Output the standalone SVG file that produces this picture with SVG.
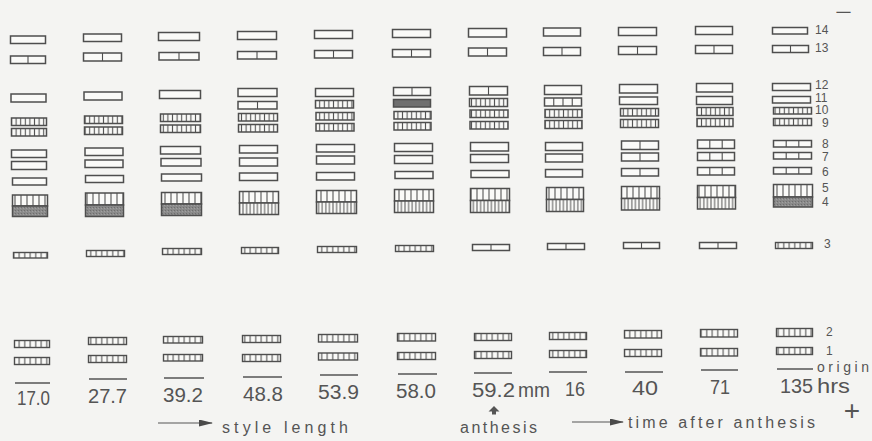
<svg xmlns="http://www.w3.org/2000/svg" width="872" height="441" viewBox="0 0 872 441">
<defs>
<pattern id="hs" width="6" height="20" patternUnits="userSpaceOnUse"><rect width="6" height="20" fill="#fafaf8"/><line x1="3" y1="0" x2="3" y2="20" stroke="#555" stroke-width="1.1"/></pattern>
<pattern id="hm" width="4.6" height="20" patternUnits="userSpaceOnUse"><rect width="4.6" height="20" fill="#fafaf8"/><line x1="2.3" y1="0" x2="2.3" y2="20" stroke="#555" stroke-width="1.1"/></pattern>
<pattern id="hd" width="3.6" height="20" patternUnits="userSpaceOnUse"><rect width="3.6" height="20" fill="#fafaf8"/><line x1="1.8" y1="0" x2="1.8" y2="20" stroke="#555" stroke-width="1"/></pattern>
<pattern id="hl" width="5.5" height="20" patternUnits="userSpaceOnUse"><rect width="5.5" height="20" fill="#fafaf8"/><line x1="2.7" y1="0" x2="2.7" y2="20" stroke="#555" stroke-width="1.1"/></pattern>
<pattern id="sh" width="3" height="3" patternUnits="userSpaceOnUse"><rect width="3" height="3" fill="#8a8a8a"/><rect x="0" y="0" width="1" height="1" fill="#6e6e6e"/><rect x="2" y="1" width="1" height="1" fill="#a0a0a0"/></pattern>
<marker id="ah" viewBox="0 0 14 7" refX="13" refY="3.5" markerWidth="14" markerHeight="7" markerUnits="userSpaceOnUse" orient="auto"><path d="M0,0 L14,3.5 L0,7 Z" fill="#4a4a4a"/></marker>
<style>
rect.b{fill:#fafaf8;stroke:#4e4e4e;stroke-width:1.5}
rect.s{fill:url(#hs);stroke:#4e4e4e;stroke-width:1.5}
rect.m{fill:url(#hm);stroke:#4e4e4e;stroke-width:1.5}
rect.d{fill:url(#hd);stroke:#4e4e4e;stroke-width:1.5}
rect.l{fill:url(#hl);stroke:#4e4e4e;stroke-width:1.4}
rect.g{fill:url(#sh);stroke:#4e4e4e;stroke-width:1.5}
rect.k{fill:#6f6f6f;stroke:#4e4e4e;stroke-width:1.5}
line.v{stroke:#4e4e4e;stroke-width:1.1}
line.o{stroke:#555;stroke-width:1.6}
text{font-family:"Liberation Sans","DejaVu Sans",sans-serif;fill:#555}
.n{font-size:20px}
.r{font-size:12px}
.t{font-size:16px}
</style>
</defs>
<rect width="872" height="441" fill="#f4f4f2"/>

<g id="lane-1">
<rect class="b" x="10.5" y="36" width="35" height="7.5"/>
<rect class="b" x="10.5" y="56" width="35" height="7.5"/><line class="v" x1="28" y1="56" x2="28" y2="63.5"/>
<rect class="b" x="11" y="94" width="35" height="8"/>
<rect class="m" x="11.5" y="118" width="35" height="7.5"/>
<rect class="m" x="11.5" y="128.5" width="35" height="7.5"/>
<rect class="b" x="11.5" y="150" width="35" height="7.5"/>
<rect class="b" x="11.5" y="161.5" width="35" height="8"/>
<rect class="b" x="12.5" y="178" width="34" height="7"/>
<rect class="s" x="12.5" y="195" width="35" height="11"/>
<rect class="g" x="12.5" y="206" width="35" height="10.5"/>
<rect class="l" x="13.5" y="252.5" width="34" height="5.5"/>
<rect class="l" x="14.5" y="340.5" width="35" height="7"/>
<rect class="l" x="14.5" y="357.5" width="35" height="7"/>
<line class="o" x1="15" y1="383" x2="50" y2="383"/>
</g>

<g id="lane-2">
<rect class="b" x="83.5" y="34" width="38" height="7.5"/>
<rect class="b" x="83.5" y="53" width="38" height="8"/><line class="v" x1="102.5" y1="53" x2="102.5" y2="61"/>
<rect class="b" x="84" y="92" width="38" height="8"/>
<rect class="m" x="84.5" y="116" width="38" height="7.5"/>
<rect class="m" x="84.5" y="127" width="38" height="7.5"/>
<rect class="b" x="85" y="148" width="38" height="7.5"/>
<rect class="b" x="85" y="160" width="38" height="7.5"/>
<rect class="b" x="85.5" y="175.5" width="38" height="7"/>
<rect class="s" x="85.5" y="193" width="38" height="12"/>
<rect class="g" x="85.5" y="205" width="38" height="11.5"/>
<rect class="l" x="86.5" y="250.5" width="38" height="6"/>
<rect class="l" x="88.5" y="337.5" width="38" height="7"/>
<rect class="l" x="88.5" y="355.5" width="38" height="7"/>
<line class="o" x1="89" y1="379" x2="127" y2="379"/>
</g>

<g id="lane-3">
<rect class="b" x="158.5" y="32.5" width="41" height="8"/>
<rect class="b" x="159" y="52.5" width="40" height="7.5"/><line class="v" x1="179" y1="52.5" x2="179" y2="60"/>
<rect class="b" x="159.5" y="90.5" width="41" height="8"/>
<rect class="m" x="160.5" y="114" width="40" height="7.5"/>
<rect class="m" x="160.5" y="125" width="40" height="7.5"/>
<rect class="b" x="160.5" y="146.5" width="40" height="7.5"/>
<rect class="b" x="161" y="158.5" width="40" height="7.5"/>
<rect class="b" x="161.5" y="174" width="40" height="7"/>
<rect class="s" x="161.5" y="192.5" width="40" height="11.5"/>
<rect class="g" x="161.5" y="204" width="40" height="11.5"/>
<rect class="l" x="162.5" y="248.5" width="39" height="6"/>
<rect class="l" x="163.5" y="336.5" width="39" height="6.5"/>
<rect class="l" x="163.5" y="354.5" width="39" height="6.5"/>
<line class="o" x1="164" y1="378" x2="204" y2="378"/>
</g>

<g id="lane-4">
<rect class="b" x="237.5" y="31.5" width="39" height="8"/>
<rect class="b" x="237.5" y="51.5" width="39" height="7.5"/><line class="v" x1="257" y1="51.5" x2="257" y2="59"/>
<rect class="b" x="238" y="88.5" width="39" height="8"/>
<rect class="b" x="238" y="101.5" width="39" height="7.5"/><line class="v" x1="257.5" y1="101.5" x2="257.5" y2="109"/>
<rect class="m" x="238.5" y="113.5" width="39" height="7.5"/>
<rect class="m" x="238.5" y="124.5" width="39" height="7.5"/>
<rect class="b" x="239.5" y="145.5" width="38" height="7.5"/>
<rect class="b" x="239.5" y="158" width="38" height="8"/>
<rect class="b" x="239.5" y="173" width="38" height="7.5"/>
<rect class="s" x="239.5" y="191.5" width="39" height="11.5"/>
<rect class="d" x="239.5" y="203" width="39" height="11.5"/>
<rect class="l" x="241.5" y="247.5" width="37" height="6"/>
<rect class="l" x="242.5" y="335.5" width="38" height="7"/>
<rect class="l" x="242.5" y="354.5" width="38" height="7"/>
<line class="o" x1="243" y1="377" x2="282" y2="377"/>
</g>

<g id="lane-5">
<rect class="b" x="314.5" y="30.5" width="38" height="8"/>
<rect class="b" x="314.5" y="50.5" width="38" height="7.5"/><line class="v" x1="333.5" y1="50.5" x2="333.5" y2="58"/>
<rect class="b" x="315.5" y="88.5" width="38" height="8"/>
<rect class="m" x="315.5" y="100.5" width="38" height="7.5"/>
<rect class="m" x="316" y="112.5" width="38" height="7.5"/>
<rect class="m" x="316" y="123.5" width="38" height="7.5"/>
<rect class="b" x="316.5" y="144.5" width="38" height="7.5"/>
<rect class="b" x="316.5" y="156" width="38" height="8"/>
<rect class="b" x="316.5" y="172.5" width="38" height="7.5"/>
<rect class="s" x="316.5" y="190.5" width="40" height="11.5"/>
<rect class="d" x="316.5" y="202" width="40" height="11.5"/>
<rect class="l" x="317.5" y="246.5" width="39" height="6"/>
<rect class="l" x="318.5" y="334.5" width="39" height="7.5"/>
<rect class="l" x="318.5" y="353" width="39" height="7"/>
<line class="o" x1="320" y1="375" x2="358" y2="375"/>
</g>

<g id="lane-6">
<rect class="b" x="392.5" y="29.5" width="38" height="8"/>
<rect class="b" x="392.5" y="49.5" width="38" height="7.5"/><line class="v" x1="411.5" y1="49.5" x2="411.5" y2="57"/>
<rect class="b" x="393.5" y="87.5" width="37" height="8"/><line class="v" x1="412" y1="87.5" x2="412" y2="95.5"/>
<rect class="k" x="393.5" y="99.5" width="37" height="7.5"/>
<rect class="m" x="394" y="111.5" width="37" height="7.5"/>
<rect class="m" x="394" y="122.5" width="37" height="7.5"/>
<rect class="b" x="394.5" y="143.5" width="38" height="8"/>
<rect class="b" x="394.5" y="155.5" width="38" height="8"/>
<rect class="b" x="395" y="171.5" width="38" height="7"/>
<rect class="s" x="394.5" y="189.5" width="39" height="11.5"/>
<rect class="d" x="394.5" y="201" width="39" height="11.5"/>
<rect class="l" x="395.5" y="245.5" width="38" height="6"/>
<rect class="l" x="397.5" y="333.5" width="38" height="7.5"/>
<rect class="l" x="397.5" y="352.5" width="38" height="7"/>
<line class="o" x1="398" y1="374" x2="437" y2="374"/>
</g>

<g id="lane-7">
<rect class="b" x="468.5" y="28.5" width="38" height="8.5"/>
<rect class="b" x="468.5" y="48" width="38" height="8"/><line class="v" x1="487.5" y1="48" x2="487.5" y2="56"/>
<rect class="b" x="469.5" y="86.5" width="38" height="8.5"/><line class="v" x1="488.5" y1="86.5" x2="488.5" y2="95"/>
<rect class="m" x="469.5" y="98.5" width="38" height="8"/>
<rect class="m" x="470" y="110" width="38" height="7.5"/>
<rect class="m" x="470" y="121.5" width="38" height="7.5"/>
<rect class="b" x="470.5" y="142.5" width="38" height="8.5"/>
<rect class="b" x="470.5" y="154.5" width="38" height="8"/>
<rect class="b" x="471" y="170.5" width="38" height="7"/>
<rect class="s" x="470.5" y="188.5" width="39" height="12"/>
<rect class="d" x="470.5" y="200.5" width="39" height="12"/>
<rect class="b" x="472.5" y="244.5" width="37" height="6"/><line class="v" x1="491" y1="244.5" x2="491" y2="250.5"/>
<rect class="l" x="474.5" y="333.5" width="37" height="7"/>
<rect class="l" x="474.5" y="351.5" width="37" height="7"/>
<line class="o" x1="474" y1="373" x2="512" y2="373"/>
</g>

<g id="lane-8">
<rect class="b" x="543.5" y="28" width="37" height="8"/>
<rect class="b" x="543.5" y="47.5" width="37" height="8"/><line class="v" x1="562" y1="47.5" x2="562" y2="55.5"/>
<rect class="b" x="544.5" y="85.5" width="37" height="9"/>
<rect class="b" x="544.5" y="98" width="37" height="8"/><line class="v" x1="553.75" y1="98" x2="553.75" y2="106"/><line class="v" x1="563" y1="98" x2="563" y2="106"/><line class="v" x1="572.25" y1="98" x2="572.25" y2="106"/>
<rect class="m" x="545" y="109.5" width="37" height="8"/>
<rect class="m" x="545" y="120.5" width="37" height="8"/>
<rect class="b" x="545.5" y="142.5" width="37" height="8"/>
<rect class="b" x="545.5" y="154" width="37" height="8"/>
<rect class="b" x="545.5" y="169.5" width="37" height="7.5"/>
<rect class="s" x="546.5" y="187.5" width="37" height="12"/>
<rect class="d" x="546.5" y="199.5" width="37" height="12"/>
<rect class="b" x="547.5" y="243.5" width="37" height="6"/><line class="v" x1="566" y1="243.5" x2="566" y2="249.5"/>
<rect class="l" x="549.5" y="332.5" width="37" height="7"/>
<rect class="l" x="549.5" y="350.5" width="37" height="7"/>
<line class="o" x1="549" y1="372" x2="587" y2="372"/>
</g>

<g id="lane-9">
<rect class="b" x="618.5" y="27.5" width="38" height="8"/>
<rect class="b" x="618.5" y="46.5" width="38" height="8"/><line class="v" x1="637.5" y1="46.5" x2="637.5" y2="54.5"/>
<rect class="b" x="619.5" y="84.5" width="38" height="8.5"/>
<rect class="b" x="619.5" y="97" width="38" height="7.5"/>
<rect class="m" x="620.5" y="108.5" width="38" height="7.5"/>
<rect class="m" x="620.5" y="119.5" width="38" height="8"/>
<rect class="b" x="621.5" y="141" width="37" height="8.5"/><line class="v" x1="640" y1="141" x2="640" y2="149.5"/>
<rect class="b" x="621.5" y="153" width="37" height="8"/><line class="v" x1="640" y1="153" x2="640" y2="161"/>
<rect class="b" x="621.5" y="168.5" width="37" height="7.5"/><line class="v" x1="640" y1="168.5" x2="640" y2="176"/>
<rect class="s" x="621.5" y="186.5" width="38" height="12"/>
<rect class="d" x="621.5" y="198.5" width="38" height="11.5"/>
<rect class="b" x="623.5" y="242.5" width="36" height="6"/><line class="v" x1="641.5" y1="242.5" x2="641.5" y2="248.5"/>
<rect class="l" x="624.5" y="330.5" width="37" height="7.5"/>
<rect class="l" x="624.5" y="349.5" width="37" height="7"/>
<line class="o" x1="625" y1="372" x2="663" y2="372"/>
</g>

<g id="lane-10">
<rect class="b" x="695.5" y="26.5" width="37" height="8"/>
<rect class="b" x="695.5" y="45.5" width="37" height="8"/><line class="v" x1="714" y1="45.5" x2="714" y2="53.5"/>
<rect class="b" x="696.5" y="83.5" width="36" height="8.5"/>
<rect class="b" x="696.5" y="96.5" width="36" height="8"/>
<rect class="m" x="697" y="107.5" width="36" height="8"/>
<rect class="m" x="697" y="118.5" width="36" height="8"/>
<rect class="b" x="697.5" y="140" width="37" height="8.5"/><line class="v" x1="709.8" y1="140" x2="709.8" y2="148.5"/><line class="v" x1="722.2" y1="140" x2="722.2" y2="148.5"/>
<rect class="b" x="697.5" y="152.5" width="37" height="8"/><line class="v" x1="709.8" y1="152.5" x2="709.8" y2="160.5"/><line class="v" x1="722.2" y1="152.5" x2="722.2" y2="160.5"/>
<rect class="b" x="697.5" y="167.5" width="37" height="7.5"/><line class="v" x1="709.8" y1="167.5" x2="709.8" y2="175"/><line class="v" x1="722.2" y1="167.5" x2="722.2" y2="175"/>
<rect class="s" x="697.5" y="185.5" width="38" height="12"/>
<rect class="d" x="697.5" y="197.5" width="38" height="11.5"/>
<rect class="b" x="699.5" y="242.5" width="37" height="6"/><line class="v" x1="718" y1="242.5" x2="718" y2="248.5"/>
<rect class="l" x="700.5" y="329.5" width="37" height="7.5"/>
<rect class="l" x="700.5" y="348.5" width="37" height="7.5"/>
<line class="o" x1="701" y1="370" x2="738" y2="370"/>
</g>

<g id="lane-11">
<rect class="b" x="772.5" y="27.5" width="35" height="6.5"/>
<rect class="b" x="772.5" y="45.5" width="36" height="7"/><line class="v" x1="790.5" y1="45.5" x2="790.5" y2="52.5"/>
<rect class="b" x="772.5" y="83.5" width="38" height="7"/>
<rect class="b" x="772.5" y="96.5" width="38" height="6.5"/>
<rect class="m" x="773.5" y="107.5" width="38" height="6.5"/>
<rect class="m" x="773.5" y="118.5" width="38" height="7"/>
<rect class="b" x="773.5" y="140.5" width="38" height="6.5"/><line class="v" x1="786.2" y1="140.5" x2="786.2" y2="147"/><line class="v" x1="798.8" y1="140.5" x2="798.8" y2="147"/>
<rect class="b" x="773.5" y="152.5" width="38" height="6.5"/><line class="v" x1="786.2" y1="152.5" x2="786.2" y2="159"/><line class="v" x1="798.8" y1="152.5" x2="798.8" y2="159"/>
<rect class="b" x="773.5" y="167.5" width="38" height="6.5"/><line class="v" x1="786.2" y1="167.5" x2="786.2" y2="174"/><line class="v" x1="798.8" y1="167.5" x2="798.8" y2="174"/>
<rect class="s" x="773.5" y="184.5" width="39" height="12.5"/>
<rect class="g" x="773.5" y="197" width="39" height="10"/>
<rect class="l" x="775.5" y="242.5" width="37" height="6"/>
<rect class="l" x="776.5" y="328.5" width="36" height="8"/>
<rect class="l" x="776.5" y="347.5" width="36" height="7"/>
<line class="o" x1="777" y1="369" x2="813" y2="369"/>
</g>

<g id="band-labels">
<text class="r" x="815" y="34">14</text>
<text class="r" x="815" y="52">13</text>
<text class="r" x="815" y="89">12</text>
<text class="r" x="815" y="101.5">11</text>
<text class="r" x="815" y="114">10</text>
<text class="r" x="822" y="127">9</text>
<text class="r" x="822" y="148">8</text>
<text class="r" x="822" y="160.5">7</text>
<text class="r" x="822" y="176">6</text>
<text class="r" x="822" y="192">5</text>
<text class="r" x="822" y="206">4</text>
<text class="r" x="824" y="248">3</text>
<text class="r" x="826" y="336">2</text>
<text class="r" x="826" y="355">1</text>
<text x="817" y="372" font-size="14" textLength="52" lengthAdjust="spacing">origin</text>
</g>

<g id="lane-labels">
<text class="n" x="17" y="405" textLength="33" lengthAdjust="spacingAndGlyphs">17.0</text>
<text class="n" x="88" y="403" textLength="39" lengthAdjust="spacingAndGlyphs">27.7</text>
<text class="n" x="163" y="402" textLength="40" lengthAdjust="spacingAndGlyphs">39.2</text>
<text class="n" x="243" y="401" textLength="40" lengthAdjust="spacingAndGlyphs">48.8</text>
<text class="n" x="318" y="399" textLength="41" lengthAdjust="spacingAndGlyphs">53.9</text>
<text class="n" x="396" y="398" textLength="40" lengthAdjust="spacingAndGlyphs">58.0</text>
<text class="n" x="472" y="397" textLength="43" lengthAdjust="spacingAndGlyphs">59.2</text>
<text class="n" x="518" y="397" textLength="32" lengthAdjust="spacingAndGlyphs">mm</text>
<text class="n" x="565" y="396" textLength="20" lengthAdjust="spacingAndGlyphs">16</text>
<text class="n" x="632" y="395" textLength="26" lengthAdjust="spacingAndGlyphs">40</text>
<text class="n" x="710" y="394" textLength="20" lengthAdjust="spacingAndGlyphs">71</text>
<text class="n" x="780" y="393" textLength="33" lengthAdjust="spacingAndGlyphs">135</text>
<text class="n" x="817" y="393" textLength="33" lengthAdjust="spacingAndGlyphs">hrs</text>
</g>

<g id="connectors">
<line x1="158" y1="423" x2="212" y2="423" stroke="#555" stroke-width="1" marker-end="url(#ah)"/>
<line x1="572" y1="422" x2="623" y2="422" stroke="#555" stroke-width="1" marker-end="url(#ah)"/>
<path d="M494,406 L499.5,411.5 L496,411.5 L496,414.5 L492,414.5 L492,411.5 L488.5,411.5 Z" fill="#555"/>
</g>

<g id="captions">
<text class="t" x="222" y="433" textLength="126" lengthAdjust="spacing">style length</text>
<text class="t" x="460" y="433" textLength="77" lengthAdjust="spacing">anthesis</text>
<text class="t" x="628" y="428" textLength="187" lengthAdjust="spacing">time after anthesis</text>
<text x="852" y="420" font-size="28" text-anchor="middle">+</text>
<text x="835" y="19" font-size="20" textLength="17" lengthAdjust="spacingAndGlyphs">−</text>
</g>
</svg>
